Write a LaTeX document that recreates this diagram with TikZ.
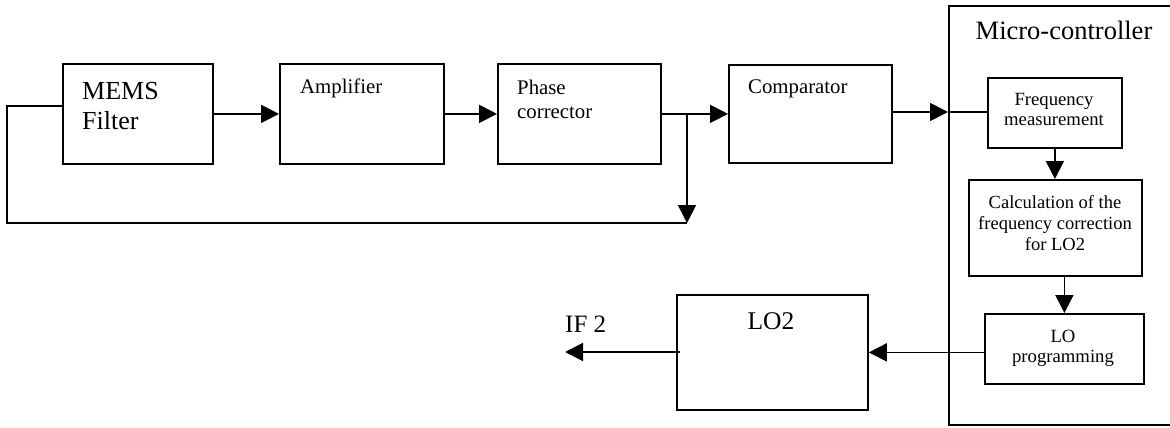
\documentclass[tikz,border=0pt]{standalone}
\usepackage{fontspec}
\setmainfont{Liberation Serif}
\usetikzlibrary{arrows.meta,calc}
\begin{document}
\begin{tikzpicture}[x=1pt,y=-1pt,
  box/.style={draw,line width=1.8pt,rectangle,inner sep=0pt,anchor=north west},
  conn/.style={line width=1.8pt},
  arr/.style={line width=1.8pt,-{Triangle[length=18pt,width=18pt]}},
  lbl/.style={inner sep=0pt,anchor=base west,align=left},
  clbl/.style={inner sep=0pt,anchor=base,align=center}]
\useasboundingbox (0,0) rectangle (1170,428);
% boxes
\node[box,minimum width=150pt,minimum height=100pt] (mems) at (62,63) {};
\node[box,minimum width=164pt,minimum height=100pt] (amp) at (279,63) {};
\node[box,minimum width=163pt,minimum height=100pt] (phase) at (497,63) {};
\node[box,minimum width=163pt,minimum height=98pt] (comp) at (728,64) {};
\node[box,minimum width=230pt,minimum height=419pt] (mc) at (948,5) {};
\node[box,minimum width=134pt,minimum height=70pt] (freq) at (987,77) {};
\node[box,minimum width=173pt,minimum height=96pt] (calc) at (968,179) {};
\node[box,minimum width=159pt,minimum height=70pt] (lo) at (984,313) {};
\node[box,minimum width=191pt,minimum height=115pt] (lo2) at (676,294) {};
% labels (base = baseline of last line)
\node[lbl,font=\fontsize{26}{30}\selectfont] (memst) at (82,129) {MEMS\\Filter};
\node[lbl,font=\fontsize{20.8}{24}\selectfont] (ampt) at (300,93) {Amplifier};
\node[lbl,font=\fontsize{20.8}{24}\selectfont] (phaset) at (517,118) {Phase\\corrector};
\node[lbl,font=\fontsize{20.8}{24}\selectfont] (compt) at (748,93) {Comparator};
\node[clbl,font=\fontsize{26.5}{28}\selectfont] (mct) at (1064,40) {Micro-controller};
\node[clbl,font=\fontsize{18.7}{20}\selectfont] (freqt) at (1054,125) {Frequency\\measurement};
\node[clbl,font=\fontsize{18.5}{21}\selectfont] (calct) at (1055,250) {Calculation of the\\frequency correction\\for LO2};
\node[clbl,font=\fontsize{18.7}{20}\selectfont] (lot) at (1063,362) {LO\\programming};
\node[clbl,font=\fontsize{25.5}{28}\selectfont] (lo2t) at (771,329) {LO2};
\node[lbl,font=\fontsize{25}{28}\selectfont] (ift) at (565,332) {IF 2};
% coordinates
\coordinate (br) at (687,113);
\coordinate (brb) at (687,223);
\coordinate (fbl) at (7,223);
\coordinate (fbt) at (7,106);
\coordinate (mcin) at (948,112);
\coordinate (ifstart) at (680,352);
\coordinate (ifend) at (565,352);
% connectors
\draw[arr] (mems.east) -- (amp.west);
\draw[arr] (amp.east) -- (phase.west);
\draw[arr] (phase.east) -- (comp.west);
\draw[arr] (br) -- (brb);
\draw[conn] (brb) -- (fbl) -- (fbt) -- (mems.west |- fbt);
\draw[arr] (comp.east |- mcin) -- (mcin);
\draw[conn] (mcin) -- (freq.west |- mcin);
\draw[arr] (freq.south) -- (freq.south |- calc.north);
\draw[arr] (lo.north |- calc.south) -- (lo.north);
\draw[arr] (lo.west |- lo2.east) -- (lo2.east);
\draw[arr] (ifstart) -- (ifend);
\end{tikzpicture}
\end{document}
